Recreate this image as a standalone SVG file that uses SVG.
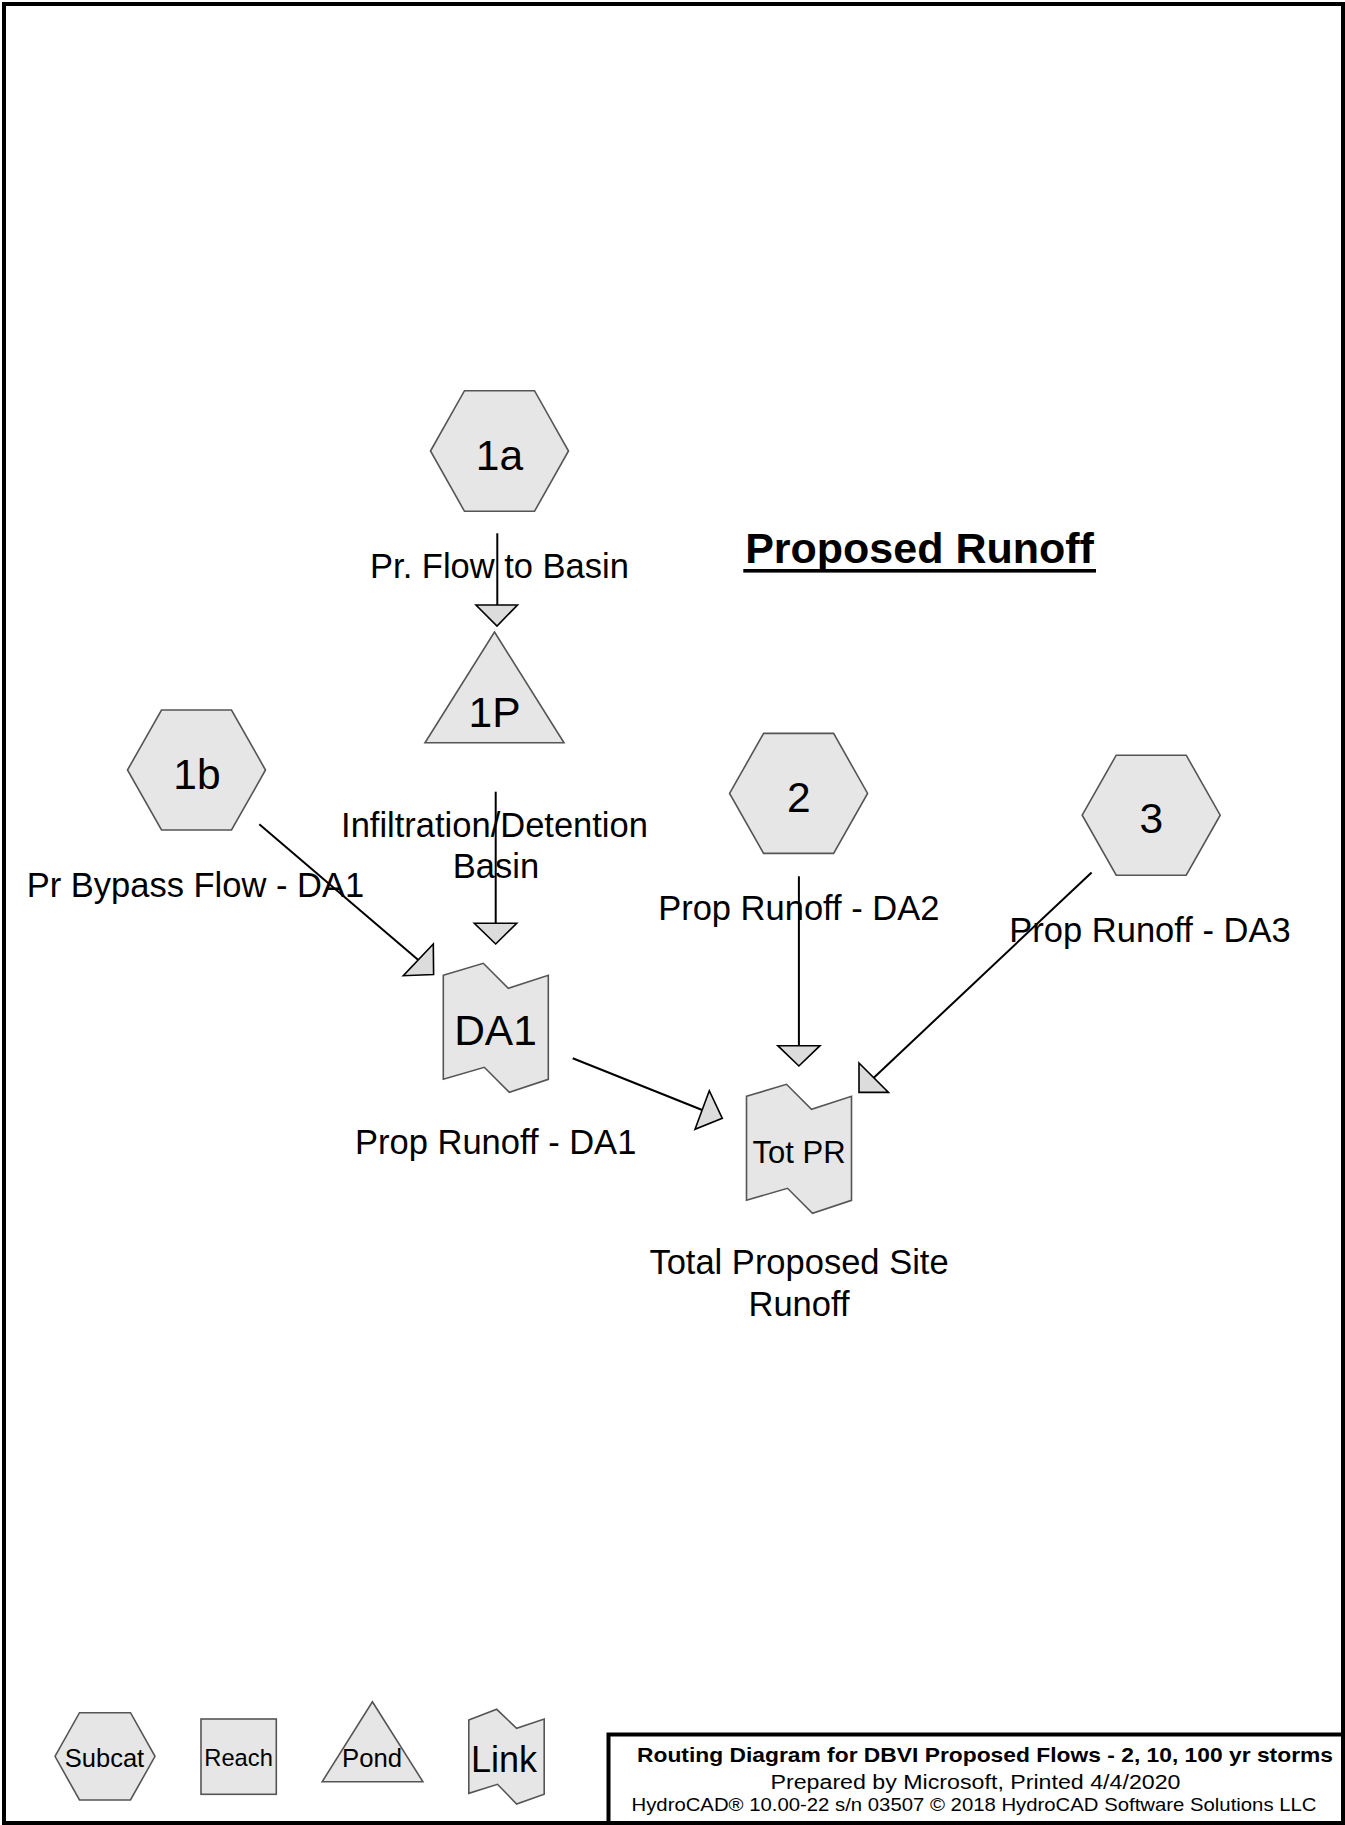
<svg xmlns="http://www.w3.org/2000/svg" width="1345" height="1825" viewBox="0 0 1345 1825">
<style>
.node{fill:#e6e6e6;stroke:#555;stroke-width:1.6}
.lbl{font-family:"Liberation Sans",Arial,sans-serif;fill:#000;text-anchor:middle}
.nl{font-size:42.5px}
.cl{font-size:34.5px}
.edge{stroke:#000;stroke-width:2;fill:none}
.head{fill:#dcdcdc;stroke:#000;stroke-width:1.6;stroke-linejoin:miter}
.tb{font-family:"Liberation Sans",Arial,sans-serif;fill:#000}
</style>
<defs>
<path id="link" d="M0,12 L40,0 L65,25 L105,12 L105,116 L66,129 L41,104 L0,116 Z"/>
</defs>
<rect x="0" y="0" width="1345" height="1825" fill="#fff"/>
<rect x="4" y="4" width="1339" height="1819" fill="none" stroke="#000" stroke-width="4"/>

<g id="connectors">
  <line class="edge" x1="497.3" y1="533.3" x2="497.3" y2="605"/>
  <polygon class="head" points="476,605 517.5,605 497,626"/>
  <line class="edge" x1="495.7" y1="791.7" x2="495.7" y2="923.3"/>
  <polygon class="head" points="474.3,923.3 516.7,923.3 495.7,944"/>
  <line class="edge" x1="259.3" y1="824.3" x2="418.3" y2="960"/>
  <polygon class="head" points="433.3,944 403.3,975.7 433.6,974.5"/>
  <line class="edge" x1="572.7" y1="1058.3" x2="702.2" y2="1110"/>
  <polygon class="head" points="709.3,1090.7 695,1129.3 722.3,1118.3"/>
  <line class="edge" x1="798.9" y1="876.3" x2="798.9" y2="1045.7"/>
  <polygon class="head" points="777.8,1045.7 820,1045.7 798.9,1066"/>
  <line class="edge" x1="1091.6" y1="872.5" x2="873.8" y2="1077.7"/>
  <polygon class="head" points="859,1063 888.5,1092.4 859,1092.4"/>
</g>

<g id="node-1a">
  <polygon class="node" points="430.5,451 464.5,390.7 534.5,390.7 568.5,451 534.5,511.3 464.5,511.3"/>
  <text class="lbl nl" x="499.5" y="470">1a</text>
  <text class="lbl cl" x="499.5" y="578">Pr. Flow to Basin</text>
</g>

<g id="node-1b">
  <polygon class="node" points="127.5,770 161.5,710 231.5,710 265.5,770 231.5,830 161.5,830"/>
  <text class="lbl nl" x="197" y="789">1b</text>
  <text class="lbl cl" x="195.4" y="896.7">Pr Bypass Flow - DA1</text>
</g>

<g id="node-1P">
  <polygon class="node" points="494.5,632 564,742.7 425,742.7"/>
  <text class="lbl nl" x="494.5" y="726.7">1P</text>
  <text class="lbl cl" x="494.5" y="836.7">Infiltration/Detention</text>
  <text class="lbl cl" x="496" y="878">Basin</text>
</g>

<g id="node-2">
  <polygon class="node" points="729.6,793.4 763.6,733.4 833.6,733.4 867.6,793.4 833.6,853.4 763.6,853.4"/>
  <text class="lbl nl" x="798.8" y="812">2</text>
  <text class="lbl cl" x="798.8" y="920">Prop Runoff - DA2</text>
</g>

<g id="node-3">
  <polygon class="node" points="1082.2,815.2 1116.2,755.2 1186.2,755.2 1220.2,815.2 1186.2,875.2 1116.2,875.2"/>
  <text class="lbl nl" x="1151.2" y="833">3</text>
  <text class="lbl cl" x="1150" y="942">Prop Runoff - DA3</text>
</g>

<g id="node-DA1">
  <use href="#link" class="node" x="443.3" y="963.3"/>
  <text class="lbl nl" x="495.5" y="1045">DA1</text>
  <text class="lbl cl" x="495.7" y="1154">Prop Runoff - DA1</text>
</g>

<g id="node-TotPR">
  <use href="#link" class="node" x="746.5" y="1084.3"/>
  <text class="lbl" x="799" y="1162.5" font-size="31">Tot PR</text>
  <text class="lbl cl" x="799" y="1273.6">Total Proposed Site</text>
  <text class="lbl cl" x="799" y="1316">Runoff</text>
</g>

<g id="title">
  <text class="lbl" x="919.5" y="563" font-size="43" font-weight="bold">Proposed Runoff</text>
  <rect x="743.3" y="569" width="352.7" height="3.6" fill="#000"/>
</g>

<g id="legend">
  <g id="legend-subcat">
    <polygon class="node" points="55,1756.3 79.5,1712.7 130.5,1712.7 155,1756.3 130.5,1800 79.5,1800"/>
    <text class="lbl" x="104.5" y="1767.3" font-size="25.5">Subcat</text>
  </g>
  <g id="legend-reach">
    <rect class="node" x="201" y="1719" width="75.3" height="75.3"/>
    <text class="lbl" x="238.6" y="1766" font-size="23.7">Reach</text>
  </g>
  <g id="legend-pond">
    <polygon class="node" points="372.4,1701.7 422.9,1781.7 322.2,1781.7"/>
    <text class="lbl" x="372" y="1767.3" font-size="25.7">Pond</text>
  </g>
  <g id="legend-link">
    <polygon class="node" points="468.8,1720 496.7,1709.3 516.6,1728.3 544.2,1719 544.2,1794.3 516.6,1804 497.5,1784.3 468.8,1793.3"/>
    <text class="lbl" x="504" y="1771.7" font-size="36">Link</text>
  </g>
</g>

<g id="title-block">
  <rect x="608.5" y="1734.5" width="734.5" height="88.5" fill="#fff" stroke="#000" stroke-width="4"/>
  <text class="tb" x="637" y="1761.5" font-size="21" font-weight="bold" textLength="696" lengthAdjust="spacingAndGlyphs">Routing Diagram for DBVI Proposed Flows - 2, 10, 100 yr storms</text>
  <text class="tb" x="770.5" y="1789" font-size="20" textLength="410" lengthAdjust="spacingAndGlyphs">Prepared by Microsoft,  Printed 4/4/2020</text>
  <text class="tb" x="631.5" y="1811" font-size="19" textLength="685" lengthAdjust="spacingAndGlyphs">HydroCAD® 10.00-22  s/n 03507  © 2018 HydroCAD Software Solutions LLC</text>
</g>
</svg>
